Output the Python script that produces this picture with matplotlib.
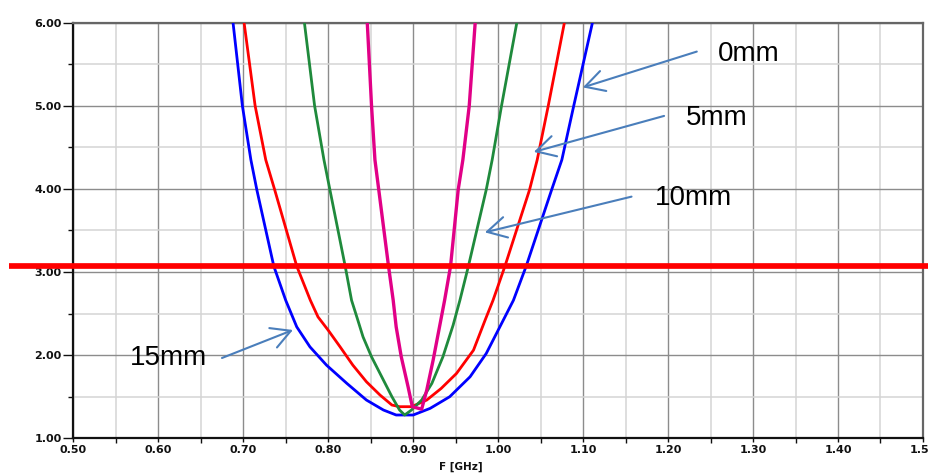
import numpy as np
import matplotlib.pyplot as plt
from matplotlib.ticker import MultipleLocator, FormatStrFormatter
import matplotlib.transforms as mtransforms

# dados (frequencia em GHz, VSWR)
f_blue = [0.688, 0.699, 0.709, 0.716, 0.736, 0.750, 0.763, 0.7785, 0.798, 0.822,
          0.845, 0.865, 0.880, 0.900, 0.920, 0.943, 0.967, 0.986, 1.000, 1.018,
          1.033, 1.063, 1.075, 1.089, 1.111]
v_blue = [6.00, 5.00, 4.35, 3.99, 3.07, 2.66, 2.34, 2.10, 1.88, 1.66,
          1.46, 1.34, 1.28, 1.28, 1.36, 1.50, 1.74, 2.02, 2.30, 2.66,
          3.07, 3.99, 4.35, 5.00, 6.00]

f_red = [0.701, 0.714, 0.7265, 0.737, 0.763, 0.779, 0.788, 0.800, 0.814, 0.829,
         0.845, 0.861, 0.875, 0.884, 0.898, 0.916, 0.933, 0.951, 0.971, 0.985,
         0.994, 1.008, 1.037, 1.046, 1.059, 1.078]
v_red = [6.00, 5.00, 4.35, 3.99, 3.07, 2.66, 2.46, 2.30, 2.10, 1.88,
         1.68, 1.52, 1.40, 1.38, 1.38, 1.46, 1.60, 1.78, 2.06, 2.43,
         2.66, 3.07, 3.99, 4.35, 5.00, 6.00]

f_green = [0.772, 0.784, 0.795, 0.802, 0.820, 0.8275, 0.834, 0.841, 0.851, 0.863,
           0.875, 0.884, 0.890, 0.898, 0.910, 0.922, 0.935, 0.947, 0.955, 0.965,
           0.986, 0.993, 1.004, 1.022]
v_green = [6.00, 5.00, 4.35, 3.99, 3.07, 2.66, 2.45, 2.22, 1.98, 1.74,
           1.50, 1.34, 1.28, 1.34, 1.46, 1.66, 1.98, 2.36, 2.66, 3.07,
           3.99, 4.35, 5.00, 6.00]

f_mag = [0.846, 0.851, 0.855, 0.8595, 0.871, 0.8765, 0.880, 0.886, 0.894, 0.899,
         0.910, 0.916, 0.9235, 0.931, 0.937, 0.944, 0.953, 0.9585, 0.966, 0.973]
v_mag = [6.00, 5.00, 4.35, 3.99, 3.07, 2.66, 2.34, 1.98, 1.62, 1.38,
         1.35, 1.58, 1.94, 2.34, 2.66, 3.07, 3.99, 4.35, 5.00, 6.00]

limiar = 3.07

# rotulos: texto, posicao do texto, cauda e ponta da seta (dados)
rotulos = ['0mm', '5mm', '10mm', '15mm']
pos_texto = [(1.2588, 5.625), (1.2205, 4.854), (1.1844, 3.892), (0.5667, 1.966)]
cauda = [(1.2338, 5.652), (1.1953, 4.878), (1.157, 3.907), (0.675, 1.966)]
ponta = [(1.0997, 5.221), (1.042, 4.445), (0.9844, 3.477), (0.7585, 2.303)]

fig = plt.figure(figsize=(9.29, 4.75), dpi=100)
ax = fig.add_axes([0.0789, 0.0773, 0.9146, 0.875])

ax.plot(f_blue, v_blue, color='#0000FF', lw=2.0, zorder=3)
ax.plot(f_red, v_red, color='#FF0000', lw=2.0, zorder=3)
ax.plot(f_green, v_green, color='#1F8A3C', lw=2.0, zorder=3)
ax.plot(f_mag, v_mag, color='#E10087', lw=2.4, zorder=3)

# linha de limiar, passa para fora do eixo
trans = mtransforms.blended_transform_factory(ax.transAxes, ax.transData)
ax.plot([-0.0757, 1.008], [limiar, limiar], color='#FF0000', lw=4.1,
        transform=trans, clip_on=False, zorder=5, solid_capstyle='butt')

ax.set_xlim(0.5, 1.5)
ax.set_ylim(1.0, 6.0)
ax.xaxis.set_major_locator(MultipleLocator(0.1))
ax.xaxis.set_minor_locator(MultipleLocator(0.05))
ax.yaxis.set_major_locator(MultipleLocator(1.0))
ax.yaxis.set_minor_locator(MultipleLocator(0.5))
ax.xaxis.set_major_formatter(FormatStrFormatter('%.2f'))
ax.yaxis.set_major_formatter(FormatStrFormatter('%.2f'))

ax.grid(True, which='major', color='#8C8C8C', lw=1.0, zorder=0)
ax.grid(True, which='minor', color='#D4D4D4', lw=1.1, zorder=0)
ax.set_axisbelow(True)

for lado in ['left', 'bottom']:
    ax.spines[lado].set_color('#111111')
    ax.spines[lado].set_linewidth(1.6)
for lado in ['top', 'right']:
    ax.spines[lado].set_color('#666666')
    ax.spines[lado].set_linewidth(1.6)

ax.tick_params(axis='y', which='major', direction='out', length=7.5, width=1.0,
               pad=1.0, colors='#111111', labelsize=8)
ax.tick_params(axis='y', which='minor', direction='out', length=3.6, width=1.0,
               colors='#111111')
ax.tick_params(axis='x', which='major', direction='out', length=3.0, width=1.0,
               pad=1.5, colors='#111111', labelsize=8)
ax.tick_params(axis='x', which='minor', direction='out', length=3.6, width=1.0,
               colors='#111111')
for lbl in ax.get_xticklabels() + ax.get_yticklabels():
    lbl.set_fontweight('bold')

ax.set_xlabel('F [GHz]', fontsize=7.5, fontweight='bold', color='#111111')
ax.xaxis.set_label_coords(0.456, -0.069)
ax.xaxis.label.set_va('center')

for txt, pt, c, p in zip(rotulos, pos_texto, cauda, ponta):
    ax.annotate('', xy=p, xytext=c,
                arrowprops=dict(arrowstyle='->,head_length=0.55,head_width=0.3',
                                color='#4A7EBB', lw=1.5, mutation_scale=25,
                                shrinkA=0, shrinkB=0), zorder=6)
    ax.text(pt[0], pt[1], txt, fontsize=20, family='Liberation Sans',
            ha='left', va='center', color='black', zorder=6)

fig.savefig('out.png', dpi=100)
